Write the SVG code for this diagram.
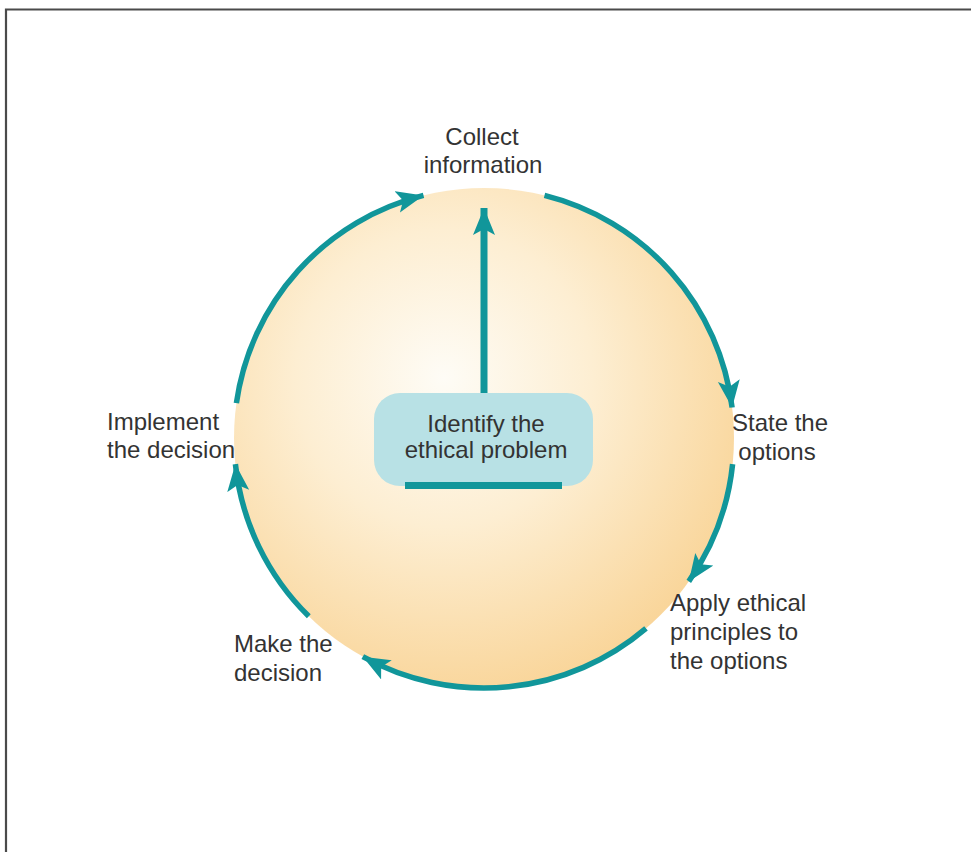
<svg xmlns="http://www.w3.org/2000/svg" width="971" height="852" viewBox="0 0 971 852">
  <defs>
    <radialGradient id="sun" cx="0.42" cy="0.38" r="0.66">
      <stop offset="0" stop-color="#fefcf6"/>
      <stop offset="0.45" stop-color="#fdeed2"/>
      <stop offset="1" stop-color="#f9d497"/>
    </radialGradient>
    <marker id="head" markerUnits="userSpaceOnUse" markerWidth="30" markerHeight="24" refX="27" refY="11" orient="auto" viewBox="0 0 30 24">
      <path d="M0,0 L27,11 L0,22 L6,11 z" fill="#11969a"/>
    </marker>
    <style>
      .lbl { font-family: "Liberation Sans", Arial, sans-serif; font-size: 24px; fill: #333333; }
      .arc { fill: none; stroke: #11969a; stroke-width: 5.5; marker-end: url(#head); }
    </style>
  </defs>
  <rect width="971" height="852" fill="#ffffff"/>
  <path d="M6,852 V9.5 H971" fill="none" stroke="#4a4a4a" stroke-width="2.2"/>

  <g id="cycle-disc">
    <circle cx="484" cy="438" r="250" fill="url(#sun)"/>
  </g>

  <g id="connectors">
    <path class="arc" d="M236.4,403.2 A250,250 0 0 1 423.5,195.4"/>
    <path class="arc" d="M544.5,195.4 A250,250 0 0 1 732.1,407.5"/>
    <path class="arc" d="M732.6,464.1 A250,250 0 0 1 688.8,581.4"/>
    <path class="arc" d="M646.0,628.4 A250,250 0 0 1 362.8,656.7"/>
    <path class="arc" d="M308.8,616.3 A250,250 0 0 1 235.4,464.1"/>
    <path d="M484,393 V208" fill="none" stroke="#11969a" stroke-width="7" marker-end="url(#head)"/>
  </g>

  <g id="identify">
    <rect x="374" y="393" width="219" height="93" rx="26" fill="#b8e1e5"/>
    <rect x="405" y="482" width="157" height="7" fill="#11969a"/>
    <text class="lbl" text-anchor="middle"><tspan x="486" y="432">Identify the</tspan><tspan x="486" y="458">ethical problem</tspan></text>
  </g>

  <g id="collect">
    <text class="lbl" text-anchor="middle"><tspan x="482" y="145">Collect</tspan><tspan x="483" y="173">information</tspan></text>
  </g>

  <g id="state">
    <text class="lbl" text-anchor="middle"><tspan x="780" y="431">State the</tspan><tspan x="777" y="460">options</tspan></text>
  </g>

  <g id="apply">
    <text class="lbl"><tspan x="670" y="611">Apply ethical</tspan><tspan x="670" y="640">principles to</tspan><tspan x="670" y="669">the options</tspan></text>
  </g>

  <g id="make">
    <text class="lbl"><tspan x="234" y="652">Make the</tspan><tspan x="234" y="681">decision</tspan></text>
  </g>

  <g id="implement">
    <text class="lbl"><tspan x="107" y="430">Implement</tspan><tspan x="107" y="458">the decision</tspan></text>
  </g>
</svg>
